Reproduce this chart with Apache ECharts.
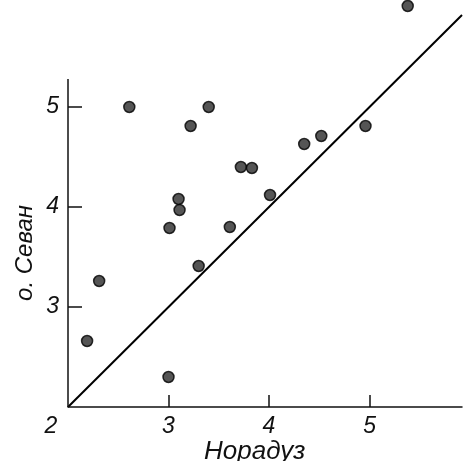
<!DOCTYPE html>
<html>
<head>
<meta charset="utf-8">
<style>html,body{margin:0;padding:0;background:#fff;}#c{width:470px;height:461px;}</style>
<script src="https://cdn.jsdelivr.net/npm/echarts@6/dist/echarts.min.js"></script>
</head>
<body>
<div id="c"></div>
<script>
// Data
const noradus = [2.19, 2.31, 2.61, 3.22, 3.40, 3.10, 3.11, 3.01, 3.30, 3.00, 3.61, 3.72, 3.83, 4.01, 4.35, 4.52, 4.96, 5.38];
const sevan   = [2.66, 3.26, 5.00, 4.81, 5.00, 4.08, 3.97, 3.79, 3.41, 2.30, 3.80, 4.40, 4.39, 4.12, 4.63, 4.71, 4.81, 6.01];
const diagX = [2, 5.92];
const diagY = [2, 5.92];
const yAxisLineX = [2, 2];
const yAxisLineY = [2, 5.28];
const xTicks = [3, 4, 5];
const xLabels = [2, 3, 4, 5];
const yTicks = [3, 4, 5];
const xName = 'Норадуз';
const yName = 'о. Севан';

const font = {fontFamily: 'Liberation Sans', fontStyle: 'italic', fontWeight: 'normal', color: '#111'};

const chart = echarts.init(document.getElementById('c'));
chart.setOption({
  animation: false,
  backgroundColor: '#fff',
  grid: {left: 68, right: 8, top: 2, bottom: 54},
  xAxis: {
    type: 'value', min: 2, max: 5.92, interval: 1,
    splitLine: {show: false},
    axisLine: {show: true, lineStyle: {color: '#111', width: 1.5}},
    axisTick: {show: true, inside: true, length: 12, customValues: xTicks, lineStyle: {color: '#111', width: 1.5}},
    axisLabel: {
      show: true, customValues: xLabels, margin: 8,
      formatter: function (v) { return v === 2 ? '{o|2}' : '{n|' + v + '}'; },
      rich: {
        o: Object.assign({fontSize: 23, padding: [0, 34, 0, 0]}, font),
        n: Object.assign({fontSize: 23}, font)
      }
    }
  },
  yAxis: {
    type: 'value', min: 2, max: 6.05, interval: 1,
    splitLine: {show: false},
    axisLine: {show: false},
    axisTick: {show: true, inside: true, length: 14, customValues: yTicks, lineStyle: {color: '#111', width: 1.5}},
    axisLabel: Object.assign({show: true, customValues: yTicks, fontSize: 23, margin: 9}, font)
  },
  graphic: [
    {type: 'text', left: 204, top: 439, style: Object.assign({text: xName, fontSize: 26, fill: '#111'}, font)},
    {type: 'text', x: 25, y: 253, rotation: Math.PI / 2,
     style: Object.assign({text: yName, fontSize: 24, fill: '#111', align: 'center', verticalAlign: 'middle'}, font)}
  ],
  series: [
    {
      type: 'line', data: diagX.map((x, i) => [x, diagY[i]]),
      symbol: 'none', lineStyle: {color: '#000', width: 2}, silent: true
    },
    {
      type: 'line', data: yAxisLineX.map((x, i) => [x, yAxisLineY[i]]),
      symbol: 'none', lineStyle: {color: '#111', width: 1.5}, silent: true
    },
    {
      type: 'scatter', clip: false,
      data: noradus.map((x, i) => [x, sevan[i]]),
      symbolSize: 11,
      itemStyle: {color: '#2a2a2a', borderColor: '#000', borderWidth: 1.5}
    }
  ]
});
</script>
</body>
</html>
